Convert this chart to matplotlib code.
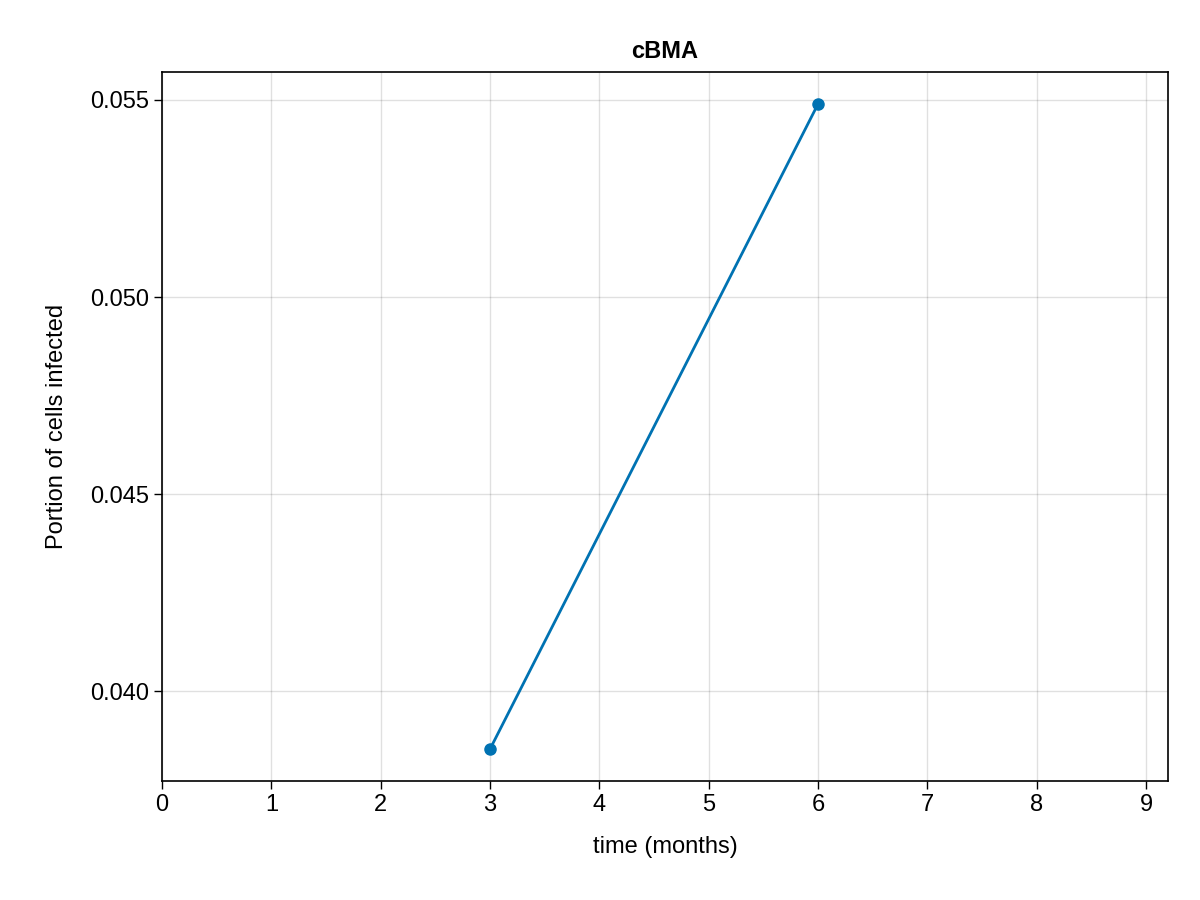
import matplotlib
matplotlib.use("Agg")
import matplotlib.pyplot as plt

plt.rcParams['font.family'] = ['Liberation Sans', 'DejaVu Sans']

months = [3, 6]
infected = [0.03853, 0.05490]
xticks = list(range(0, 10))
yticks = [0.040, 0.045, 0.050, 0.055]

fig = plt.figure(figsize=(12, 9), dpi=100)
ax = fig.add_axes([0.135, 0.1322, 0.8383, 0.7878])
ax.plot(months, infected, color='#0072B2', lw=2, marker='o', ms=8, zorder=3)
ax.set_xlim(0, 9.2)
ax.set_ylim(0.03772, 0.05571)
ax.set_xticks(xticks)
ax.set_yticks(yticks)
ax.set_yticklabels([f"{v:.3f}" for v in yticks])
ax.grid(True, color='#000000', alpha=0.12, lw=1)
ax.tick_params(labelsize=17, length=6, width=1, direction='out')
for s in ax.spines.values():
    s.set_linewidth(1.2)
ax.set_xlabel('time (months)', fontsize=17, labelpad=14)
ax.set_ylabel('Portion of cells infected', fontsize=17, labelpad=16)
ax.set_title('cBMA', fontsize=17, fontweight='bold', pad=10)
fig.savefig('out.png', dpi=100)
